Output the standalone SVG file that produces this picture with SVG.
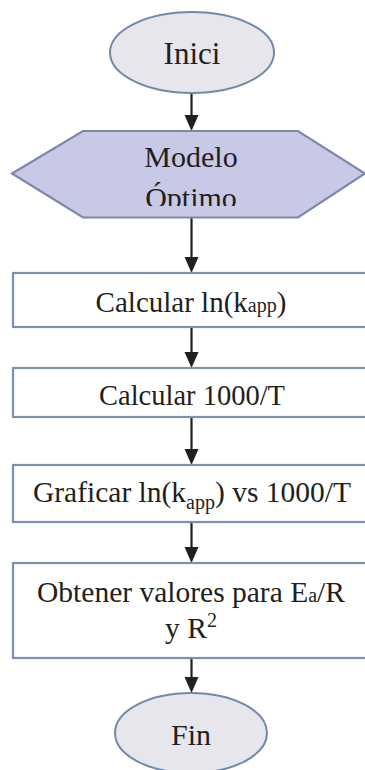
<svg xmlns="http://www.w3.org/2000/svg" width="365" height="770" viewBox="0 0 365 770">
<style>
.t{font-family:"Liberation Serif","Times New Roman",serif;fill:#231f20;text-anchor:middle}
.ell{fill:#e8e6ed;stroke:#7189aa;stroke-width:2}
.hex{fill:#c8c9e6;stroke:#7a8aa6;stroke-width:2.2}
.box{fill:#ffffff;stroke:#7c8fae;stroke-width:2.2}
.ln{stroke:#231f20;stroke-width:2.2}
</style>
<defs>
<clipPath id="c1"><rect x="0" y="131" width="365" height="75"/></clipPath>
<clipPath id="c2"><rect x="0" y="465" width="365" height="54"/></clipPath>
</defs>
<g id="connectors" fill="#231f20">
<line class="ln" x1="191.5" y1="93" x2="191.5" y2="117"/>
<polygon points="184.5,115 198.5,115 191.5,131"/>
<line class="ln" x1="191.5" y1="218" x2="191.5" y2="259"/>
<polygon points="184.5,257 198.5,257 191.5,273"/>
<line class="ln" x1="191.5" y1="327" x2="191.5" y2="354"/>
<polygon points="184.5,352 198.5,352 191.5,368"/>
<line class="ln" x1="191.5" y1="417" x2="191.5" y2="451"/>
<polygon points="184.5,449 198.5,449 191.5,465"/>
<line class="ln" x1="191.5" y1="522" x2="191.5" y2="549"/>
<polygon points="184.5,547 198.5,547 191.5,563"/>
<line class="ln" x1="191.5" y1="658" x2="191.5" y2="679"/>
<polygon points="184.5,677 198.5,677 191.5,693"/>
</g>
<g id="inici">
<ellipse class="ell" cx="192" cy="52.5" rx="82" ry="40.5"/>
<text class="t" x="192" y="64" font-size="31">Inici</text>
</g>
<g id="modelo">
<polygon class="hex" points="12,173.5 83,131 298,131 365,173.5 298,217.5 83,217.5"/>
<g clip-path="url(#c1)">
<text class="t" x="191" y="167" font-size="30">Modelo</text>
<text class="t" x="191" y="208" font-size="30">Óptimo</text>
</g>
</g>
<g id="calc-ln">
<rect class="box" x="13" y="273" width="360" height="54"/>
<text class="t" x="191" y="312" font-size="29">Calcular ln(k<tspan font-size="20">app</tspan>)</text>
</g>
<g id="calc-t">
<rect class="box" x="13" y="368" width="360" height="49"/>
<text class="t" x="192" y="405" font-size="28.5">Calcular 1000/T</text>
</g>
<g id="graficar">
<rect class="box" x="13" y="465" width="360" height="57"/>
<g clip-path="url(#c2)">
<text class="t" x="192" y="502" font-size="29.5">Graficar ln(k<tspan font-size="20" dy="7">app</tspan><tspan dy="-7">) vs 1000/T</tspan></text>
</g>
</g>
<g id="obtener">
<rect class="box" x="13" y="563" width="360" height="95"/>
<text class="t" x="191" y="602" font-size="29.5">Obtener valores para E<tspan font-size="20">a</tspan>/R</text>
<text class="t" x="191" y="638" font-size="29.5">y R<tspan font-size="20" dy="-11">2</tspan></text>
</g>
<g id="fin">
<ellipse class="ell" cx="191" cy="733" rx="76" ry="40"/>
<text class="t" x="191" y="745" font-size="30">Fin</text>
</g>
</svg>
